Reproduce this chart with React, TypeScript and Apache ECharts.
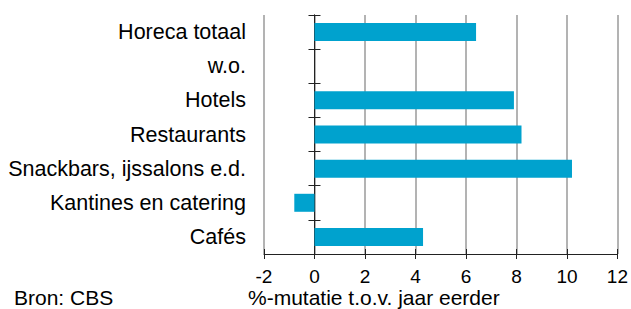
import React, { useEffect, useRef } from "react";
import * as echarts from "echarts";

const categories = [
  "Horeca totaal",
  "w.o.",
  "Hotels",
  "Restaurants",
  "Snackbars, ijssalons e.d.",
  "Kantines en catering",
  "Cafés",
];
const values: (number | null)[] = [6.4, null, 7.9, 8.2, 10.2, -0.8, 4.3];
const xMin = -2;
const xMax = 12;
const xInterval = 2;
const axisTitle = "%-mutatie t.o.v. jaar eerder";
const sourceText = "Bron: CBS";

const FONT = "Liberation Sans, Arial, sans-serif";

export default function App() {
  const ref = useRef<HTMLDivElement>(null);
  useEffect(() => {
    if (!ref.current) return;
    const chart = echarts.init(ref.current, undefined, { renderer: "svg" });
    const valueAxisBase = {
      type: "value" as const,
      min: xMin,
      max: xMax,
      interval: xInterval,
      position: "bottom" as const,
    };
    const catAxisBase = {
      type: "category" as const,
      data: categories,
      inverse: true,
      position: "left" as const,
      boundaryGap: true,
    };
    chart.setOption({
      animation: false,
      backgroundColor: "#ffffff",
      textStyle: { fontFamily: FONT },
      grid: { left: 264, right: 11, top: 15, bottom: 55, containLabel: false },
      xAxis: [
        {
          ...valueAxisBase,
          axisLine: { show: true, onZero: false, lineStyle: { color: "#222", width: 1 } },
          axisTick: { show: true, inside: false, length: 5, lineStyle: { color: "#222" } },
          axisLabel: {
            show: true,
            color: "#000",
            fontSize: 19,
            lineHeight: 19,
            fontFamily: FONT,
            margin: 13,
          },
          splitLine: { show: true, lineStyle: { color: "#b3b3b3", width: 2 } },
        },
        {
          ...valueAxisBase,
          axisLine: { show: false, onZero: false },
          axisTick: { show: true, inside: true, length: 5, lineStyle: { color: "#222" } },
          axisLabel: { show: false },
          splitLine: { show: false },
        },
      ],
      yAxis: [
        {
          ...catAxisBase,
          axisLine: { show: false, onZero: false },
          axisTick: { show: false },
          axisLabel: { show: true, color: "#000", fontSize: 21.5, fontFamily: FONT, margin: 18 },
          splitLine: { show: false },
        },
        {
          ...catAxisBase,
          axisLine: { show: true, onZero: true, onZeroAxisIndex: 0, lineStyle: { color: "#222", width: 1 } },
          axisTick: { show: true, inside: false, length: 6, lineStyle: { color: "#222" } },
          axisLabel: { show: false },
          splitLine: { show: false },
        },
        {
          ...catAxisBase,
          axisLine: { show: true, onZero: true, onZeroAxisIndex: 0, lineStyle: { color: "#222", width: 1 } },
          axisTick: { show: true, inside: true, length: 6, lineStyle: { color: "#222" } },
          axisLabel: { show: false },
          splitLine: { show: false },
        },
      ],
      series: [
        {
          type: "bar",
          xAxisIndex: 0,
          yAxisIndex: 0,
          data: values.map((v) => (v === null ? "-" : v)),
          barWidth: 18,
          itemStyle: { color: "#00a2ce" },
          z: 3,
        },
      ],
      graphic: [
        {
          type: "text",
          left: 14,
          top: 287,
          style: { text: sourceText, fill: "#000", font: `21px ${FONT}`, lineHeight: 21 },
        },
        {
          type: "text",
          left: 248,
          top: 287,
          style: { text: axisTitle, fill: "#000", font: `21px ${FONT}`, lineHeight: 21 },
        },
      ],
    });
    return () => chart.dispose();
  }, []);
  return (
    <div
      ref={ref}
      style={{ position: "fixed", left: 0, top: 0, width: 631, height: 309 }}
    />
  );
}
